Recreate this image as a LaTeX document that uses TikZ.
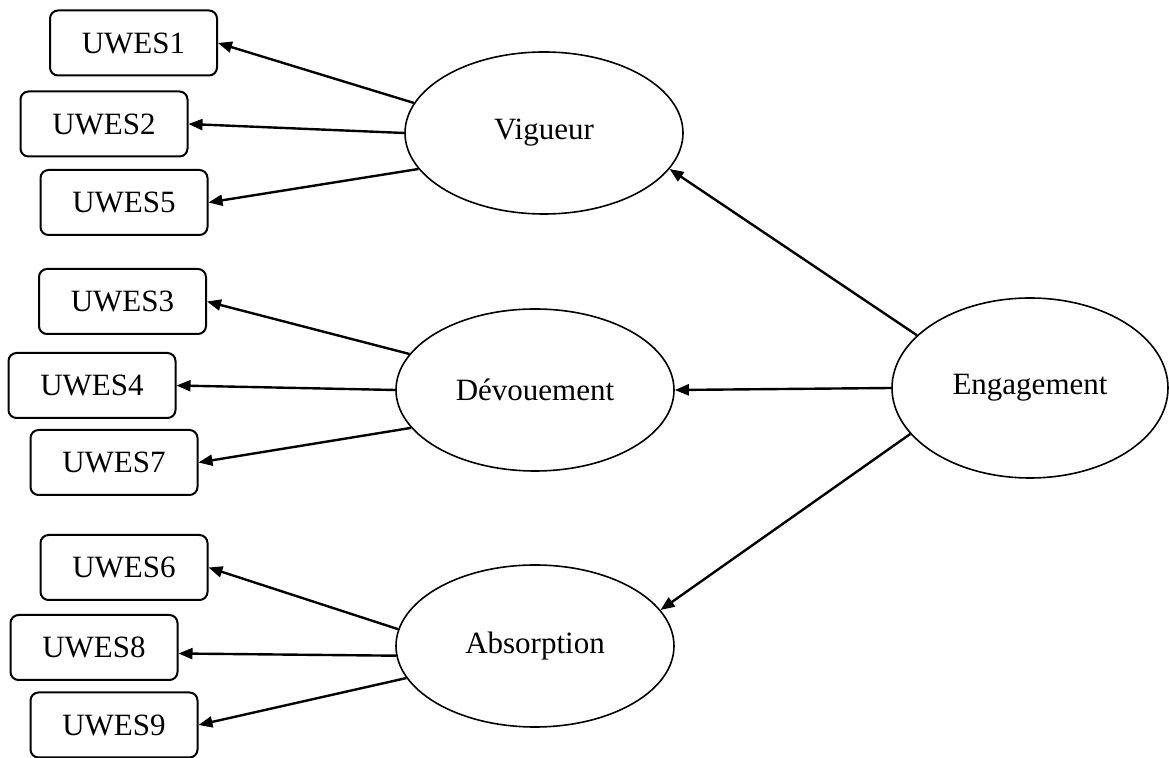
\documentclass[tikz,border=0pt]{standalone}
\usepackage{fontspec}
\setmainfont{Liberation Serif}
\usetikzlibrary{arrows.meta,shapes.geometric}

\tikzset{
  item/.style = {draw, line width=1pt, rounded corners=4pt, minimum width=83.5pt, minimum height=32.5pt, inner sep=0pt},
  factor/.style = {draw, ellipse, line width=0.8pt, minimum width=139pt, minimum height=81pt, inner sep=0pt},
  load/.style = {line width=1.2pt, -{Triangle[length=7pt,width=5.5pt]}}
}

\begin{document}
\begin{tikzpicture}[x=0.5pt, y=-0.5pt, font=\fontsize{15.5}{18}\selectfont]
\useasboundingbox (0,0) rectangle (1169,758);

% observed items
\node[item] (u1) at (133.5,43) {UWES1};
\node[item] (u2) at (104,124) {UWES2};
\node[item] (u5) at (124,202.5) {UWES5};
\node[item] (u3) at (122.5,301.5) {UWES3};
\node[item] (u4) at (92,385.5) {UWES4};
\node[item] (u7) at (114,462.5) {UWES7};
\node[item] (u6) at (124,567.5) {UWES6};
\node[item] (u8) at (94,647.5) {UWES8};
\node[item] (u9) at (114,725) {UWES9};

% latent factors
\node[factor] (vig) at (544,133) {Vigueur};
\node[factor] (dev) at (535,390) {Dévouement};
\node[factor] (abs) at (535,646) {Absorption};
\node[factor, minimum height=90pt, minimum width=138pt] (eng) at (1030,388) {Engagement};

\draw[load] (vig.167) -- (u1.east);
\draw[load] (vig.180) -- (u2.east);
\draw[load] (vig.196) -- (u5.east);

\draw[load] (dev.164) -- (u3.east);
\draw[load] (dev.180) -- (u4.east);
\draw[load] (dev.197) -- (u7.east);

\draw[load] (abs.173) -- (u6.east);
\draw[load] (abs.184) -- ([yshift=-3pt]u8.east);
\draw[load] (abs.194) -- (u9.east);

\draw[load] (eng.155) -- (vig.-16);
\draw[load] (eng.180) -- (dev.0);
\draw[load] (eng.201) -- (abs.16);

\end{tikzpicture}
\end{document}
